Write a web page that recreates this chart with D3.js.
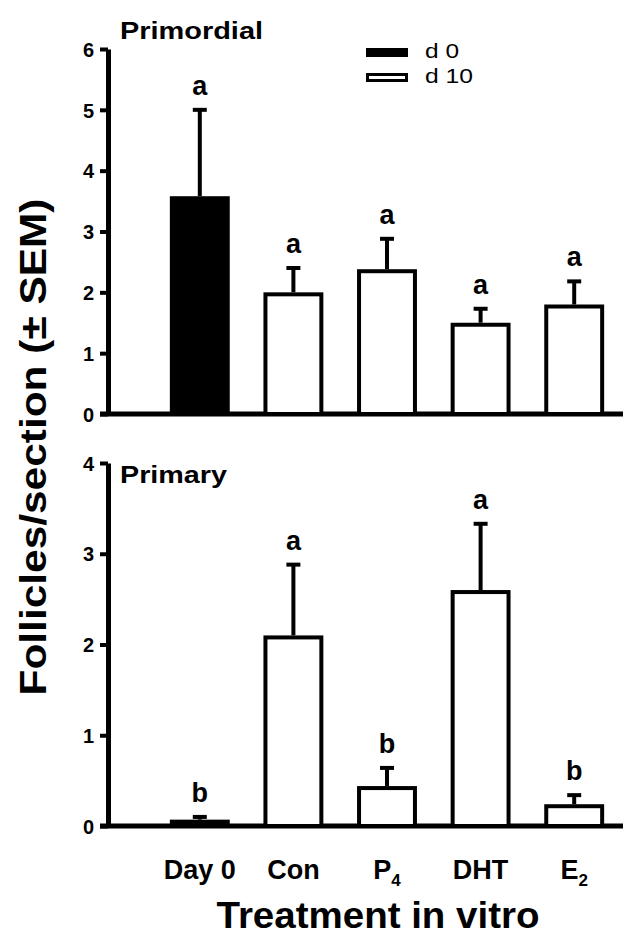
<!DOCTYPE html>
<html>
<head>
<meta charset="utf-8">
<script src="https://cdn.jsdelivr.net/npm/d3@7"></script>
<style>
  body { margin: 0; background: #fff; }
  text { font-family: "Liberation Sans", Arial, sans-serif; fill: #000; }
</style>
</head>
<body>
<script>
// categories and tick labels (subscript part kept separately)
var categories = ["Day 0", "Con", "P4", "DHT", "E2"];
var tickMain = ["Day 0", "Con", "P", "DHT", "E"];
var tickSub = ["", "", "4", "", "2"];
var dayGroup = ["d 0", "d 10", "d 10", "d 10", "d 10"];

// Primordial panel
var primordialMean = [3.58, 2.0, 2.38, 1.5, 1.8];
var primordialSem = [1.42, 0.4, 0.5, 0.23, 0.38];
var primordialLetters = ["a", "a", "a", "a", "a"];
var primordialTicks = [0, 1, 2, 3, 4, 5, 6];

// Primary panel
var primaryMean = [0.07, 2.1, 0.44, 2.6, 0.24];
var primarySem = [0.03, 0.78, 0.2, 0.73, 0.1];
var primaryLetters = ["b", "a", "b", "a", "b"];
var primaryTicks = [0, 1, 2, 3, 4];

var legendItems = ["d 0", "d 10"];

var W = 632, H = 948;
var svg = d3.select("body").append("svg")
    .attr("width", W)
    .attr("height", H);

var x = d3.scaleBand()
    .domain(categories)
    .range([153, 621])
    .paddingInner(0.36)
    .paddingOuter(0.18);

var fill = d3.scaleOrdinal().domain(legendItems).range(["#000", "#fff"]);

function panel(opts) {
    var y = d3.scaleLinear().domain([0, opts.max]).range([opts.bottom, opts.top]);
    var g = svg.append("g");

    // y axis
    var ax = g.append("g")
        .attr("transform", "translate(108,0)")
        .call(d3.axisLeft(y).tickValues(opts.ticks).tickFormat(d3.format("d"))
            .tickSize(8).tickSizeOuter(0).tickPadding(6));
    ax.select(".domain").attr("stroke-width", 5);
    ax.selectAll(".tick line").attr("stroke-width", 4);
    ax.selectAll(".tick text")
        .style("font-size", "20px")
        .style("font-weight", "bold")
        .attr("dy", "0.36em");

    // baseline
    g.append("line")
        .attr("x1", 100).attr("x2", 623)
        .attr("y1", y(0)).attr("y2", y(0))
        .attr("stroke", "#000").attr("stroke-width", 5);

    var data = categories.map(function (c, i) {
        return { cat: c, mean: opts.mean[i], sem: opts.sem[i], letter: opts.letters[i], grp: dayGroup[i] };
    });

    var bw = x.bandwidth();

    // error bars (drawn first so bar top covers them)
    g.selectAll(".err").data(data).enter().append("line")
        .attr("x1", d => x(d.cat) + bw / 2).attr("x2", d => x(d.cat) + bw / 2)
        .attr("y1", d => y(d.mean)).attr("y2", d => y(d.mean + d.sem))
        .attr("stroke", "#000").attr("stroke-width", 4);
    g.selectAll(".cap").data(data).enter().append("line")
        .attr("x1", d => x(d.cat) + bw / 2 - 7).attr("x2", d => x(d.cat) + bw / 2 + 7)
        .attr("y1", d => y(d.mean + d.sem)).attr("y2", d => y(d.mean + d.sem))
        .attr("stroke", "#000").attr("stroke-width", 4);

    g.selectAll(".bar").data(data).enter().append("rect")
        .attr("x", d => x(d.cat) + 2)
        .attr("width", bw - 4)
        .attr("y", d => y(d.mean) + 2)
        .attr("height", d => Math.max(0, y(0) - y(d.mean) - 2))
        .attr("fill", d => fill(d.grp))
        .attr("stroke", "#000").attr("stroke-width", 4);

    g.selectAll(".letter").data(data).enter().append("text")
        .attr("x", d => x(d.cat) + bw / 2)
        .attr("y", d => y(d.mean + d.sem) - 15)
        .attr("text-anchor", "middle")
        .style("font-size", "27px")
        .style("font-weight", "bold")
        .text(d => d.letter);

    g.append("text")
        .attr("x", 120).attr("y", opts.titleY)
        .attr("textLength", opts.titleLen)
        .attr("lengthAdjust", "spacingAndGlyphs")
        .style("font-size", "24px")
        .style("font-weight", "bold")
        .text(opts.title);
    return y;
}

panel({ max: 6, top: 49, bottom: 414, ticks: primordialTicks, mean: primordialMean, sem: primordialSem,
        letters: primordialLetters, title: "Primordial", titleY: 39, titleLen: 143 });
panel({ max: 4, top: 463, bottom: 826, ticks: primaryTicks, mean: primaryMean, sem: primarySem,
        letters: primaryLetters, title: "Primary", titleY: 483, titleLen: 107 });

// legend
var leg = svg.append("g");
legendItems.forEach(function (k, i) {
    var yy = 48 + i * 25;
    leg.append("rect")
        .attr("x", 366 + (i ? 1.5 : 0)).attr("y", yy + (i ? 1.5 : 0))
        .attr("width", 42 - (i ? 3 : 0)).attr("height", 9 - (i ? 3 : 0))
        .attr("fill", fill(k))
        .attr("stroke", i ? "#000" : "none").attr("stroke-width", 3);
    leg.append("text")
        .attr("x", 425).attr("y", yy + 10)
        .attr("textLength", i ? 48 : 34)
        .attr("lengthAdjust", "spacingAndGlyphs")
        .style("font-size", "21px")
        .text(k);
});

// x tick labels with subscripts
var xl = svg.append("g");
categories.forEach(function (c, i) {
    var t = xl.append("text")
        .attr("x", x(c) + x.bandwidth() / 2)
        .attr("y", 879)
        .attr("text-anchor", "middle")
        .style("font-size", "27px")
        .style("font-weight", "bold");
    t.append("tspan").text(tickMain[i]);
    if (tickSub[i]) {
        t.append("tspan")
            .attr("dy", 7)
            .style("font-size", "17px")
            .text(tickSub[i]);
    }
});

// axis titles
svg.append("text")
    .attr("x", 378).attr("y", 928)
    .attr("text-anchor", "middle")
    .attr("textLength", 323)
    .attr("lengthAdjust", "spacingAndGlyphs")
    .style("font-size", "36px")
    .style("font-weight", "bold")
    .text("Treatment in vitro");

svg.append("text")
    .attr("transform", "translate(46,447) rotate(-90)")
    .attr("text-anchor", "middle")
    .attr("textLength", 497)
    .attr("lengthAdjust", "spacingAndGlyphs")
    .style("font-size", "37px")
    .style("font-weight", "bold")
    .text("Follicles/section  (\u00b1 SEM)");
</script>
</body>
</html>
